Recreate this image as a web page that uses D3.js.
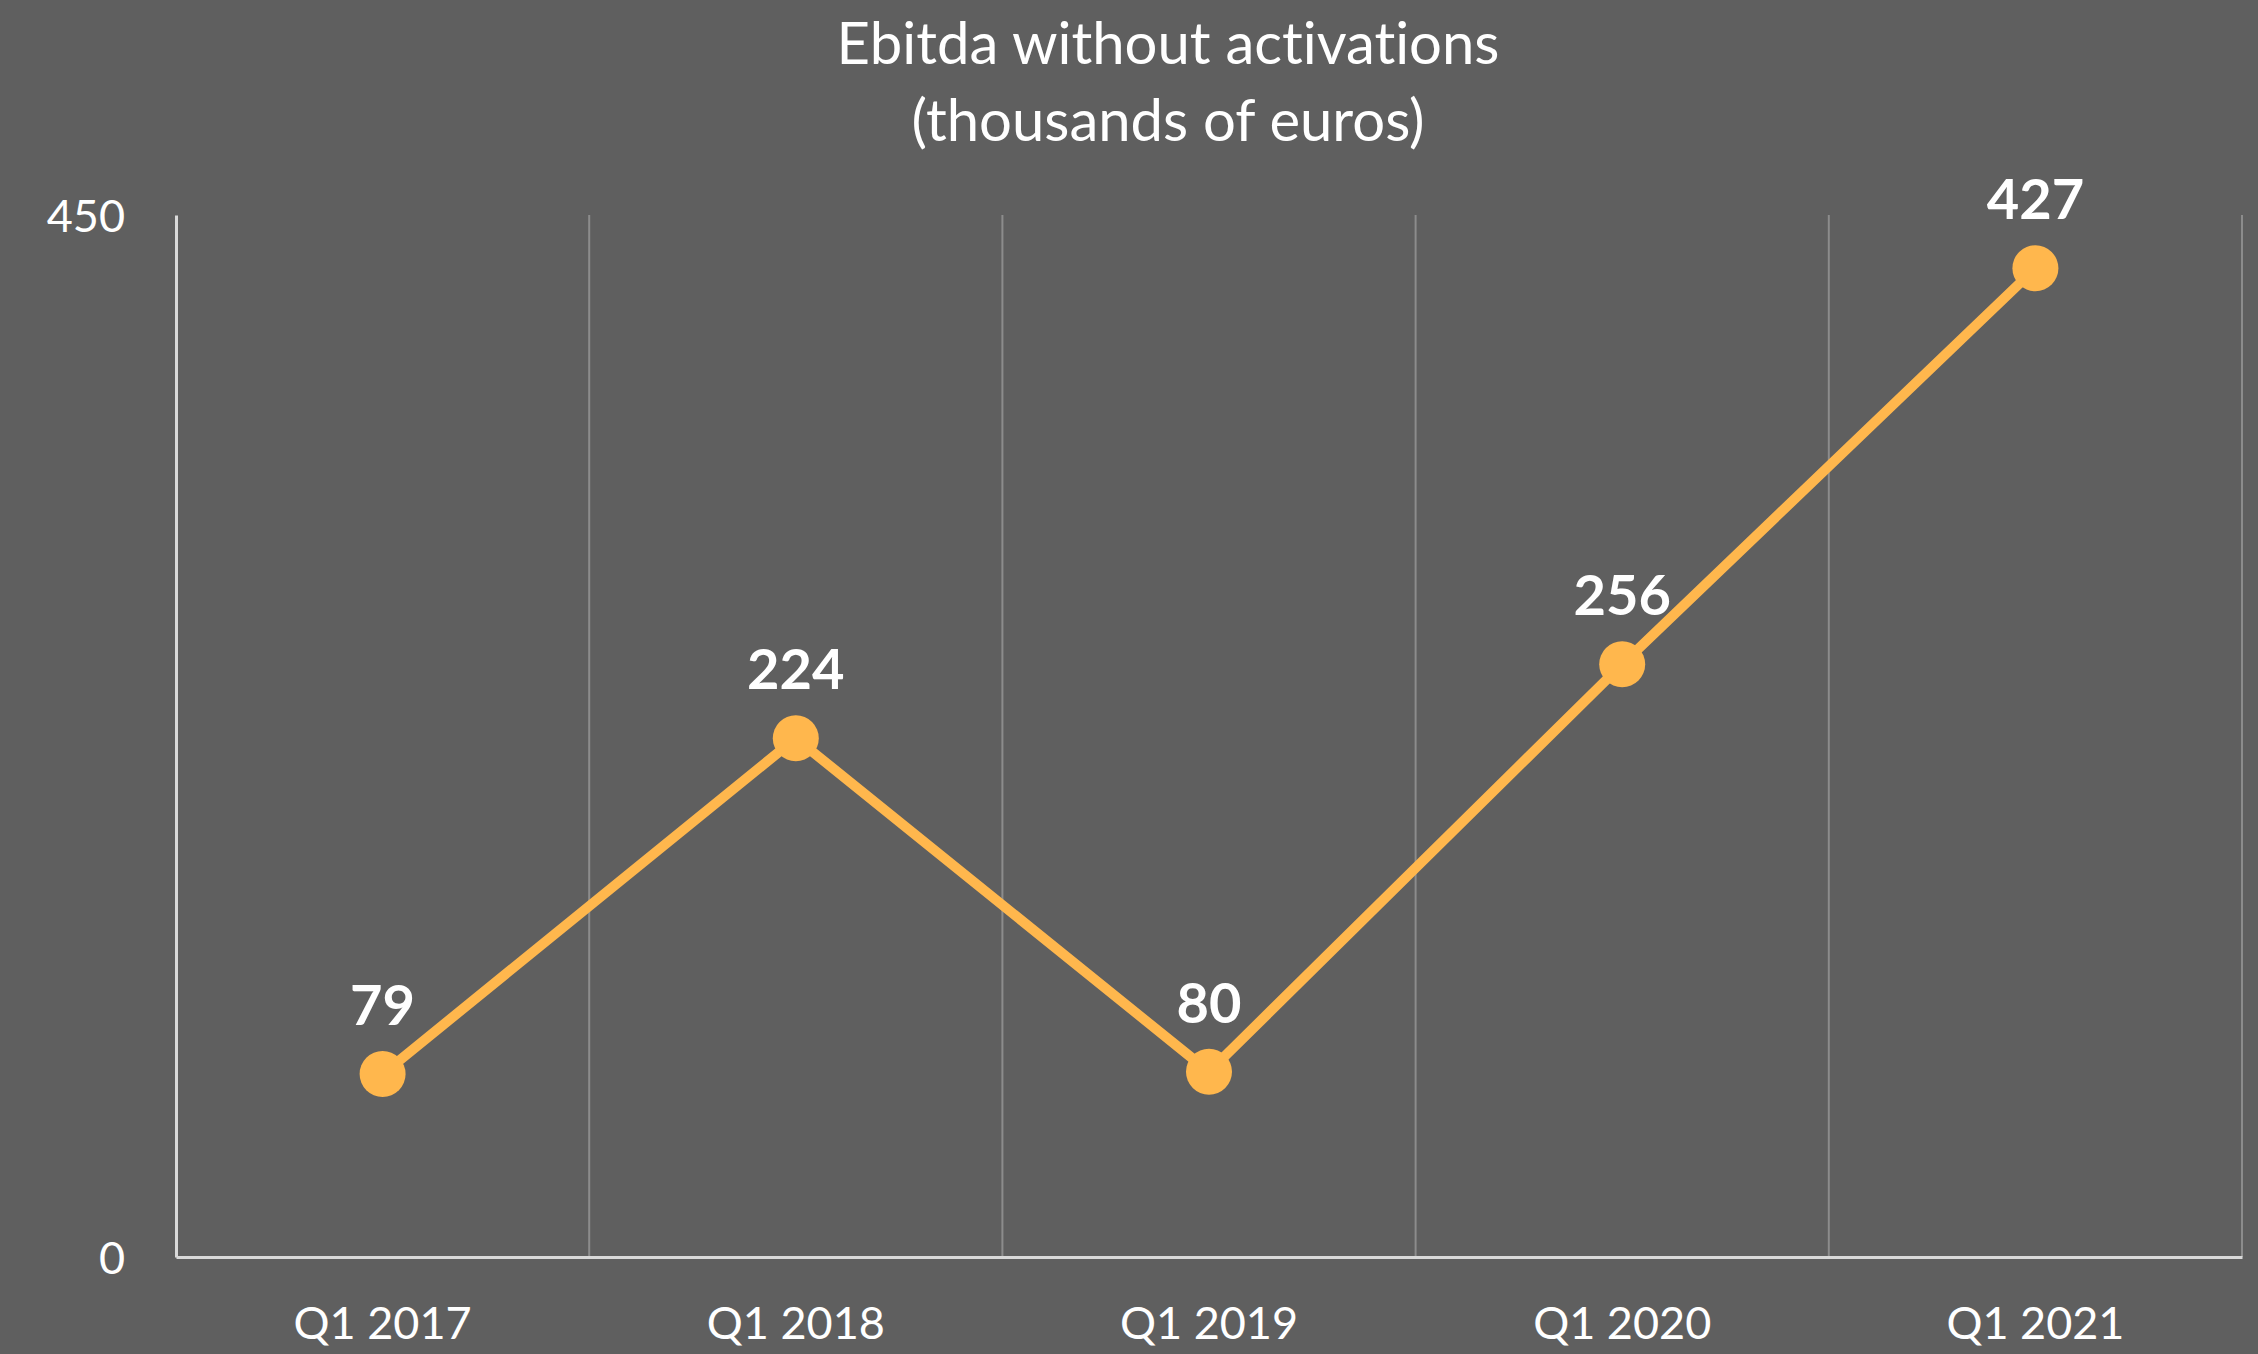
<!DOCTYPE html>
<html>
<head>
<meta charset="utf-8">
<script src="https://cdn.jsdelivr.net/npm/d3@7/dist/d3.min.js"></script>
<style>
  html, body { margin: 0; padding: 0; background: #5f5f5f; }
  svg { display: block; }
  text { font-variant-ligatures: none; font-feature-settings: "liga" 0, "clig" 0; }
</style>
</head>
<body>
<script>
const categories = ["Q1 2017", "Q1 2018", "Q1 2019", "Q1 2020", "Q1 2021"];
const values = [79, 224, 80, 256, 427];
const yTicks = [0, 450];
const titleLines = ["Ebitda without activations", "(thousands of euros)"];

const W = 2258, H = 1354;
const margin = { left: 176, right: 16, top: 215, bottom: 97 };
const svg = d3.select("body").append("svg").attr("width", W).attr("height", H);
svg.append("rect").attr("width", W).attr("height", H).attr("fill", "#5f5f5f");

const x = d3.scaleBand().domain(categories).range([margin.left, W - margin.right]).padding(0);
const y = d3.scaleLinear().domain([0, 450]).range([H - margin.bottom, margin.top]);

// vertical gridlines at band boundaries
const bounds = categories.slice(1).map(c => x(c)).concat([x.range()[1]]);
svg.append("g").selectAll("line").data(bounds).join("line")
  .attr("x1", d => d).attr("x2", d => d)
  .attr("y1", y(450)).attr("y2", y(0))
  .attr("stroke", "#8c8c8c").attr("stroke-width", 2);

// axes
const yAxis = svg.append("g").attr("transform", `translate(${margin.left},0)`)
  .call(d3.axisLeft(y).tickValues(yTicks).tickSize(0).tickPadding(51));
yAxis.select(".domain").attr("stroke", "#d9d9d9").attr("stroke-width", 3);
yAxis.selectAll("text").attr("fill", "#ffffff").attr("font-family", "Lato, sans-serif")
  .attr("font-size", 45).attr("dy", "0.36em");

const xAxis = svg.append("g").attr("transform", `translate(0,${y(0)})`)
  .call(d3.axisBottom(x).tickSize(0).tickPadding(50));
xAxis.select(".domain").attr("stroke", "#d9d9d9").attr("stroke-width", 3);
xAxis.selectAll("text").attr("fill", "#ffffff").attr("font-family", "Lato, sans-serif")
  .attr("font-size", 45);

const cx = d => x(d) + x.bandwidth() / 2;

// line
const line = d3.line().x((d, i) => cx(categories[i])).y(d => y(d));
svg.append("path").datum(values).attr("d", line)
  .attr("fill", "none").attr("stroke", "#ffb74d").attr("stroke-width", 10)
  .attr("stroke-linejoin", "round");

// markers
svg.append("g").selectAll("circle").data(values).join("circle")
  .attr("cx", (d, i) => cx(categories[i])).attr("cy", d => y(d)).attr("r", 23)
  .attr("fill", "#ffb74d");

// data labels
svg.append("g").selectAll("text").data(values).join("text")
  .attr("x", (d, i) => cx(categories[i])).attr("y", d => y(d) - 49)
  .attr("text-anchor", "middle").attr("fill", "#ffffff")
  .attr("font-family", "Lato, sans-serif").attr("font-weight", "bold").attr("font-size", 56)
  .text(d => d);

// title
svg.append("g").selectAll("text").data(titleLines).join("text")
  .attr("x", 1168).attr("y", (d, i) => 64 + i * 77)
  .attr("text-anchor", "middle").attr("fill", "#ffffff")
  .attr("font-family", "Lato, sans-serif").attr("font-size", 58)
  .text(d => d);
</script>
</body>
</html>
